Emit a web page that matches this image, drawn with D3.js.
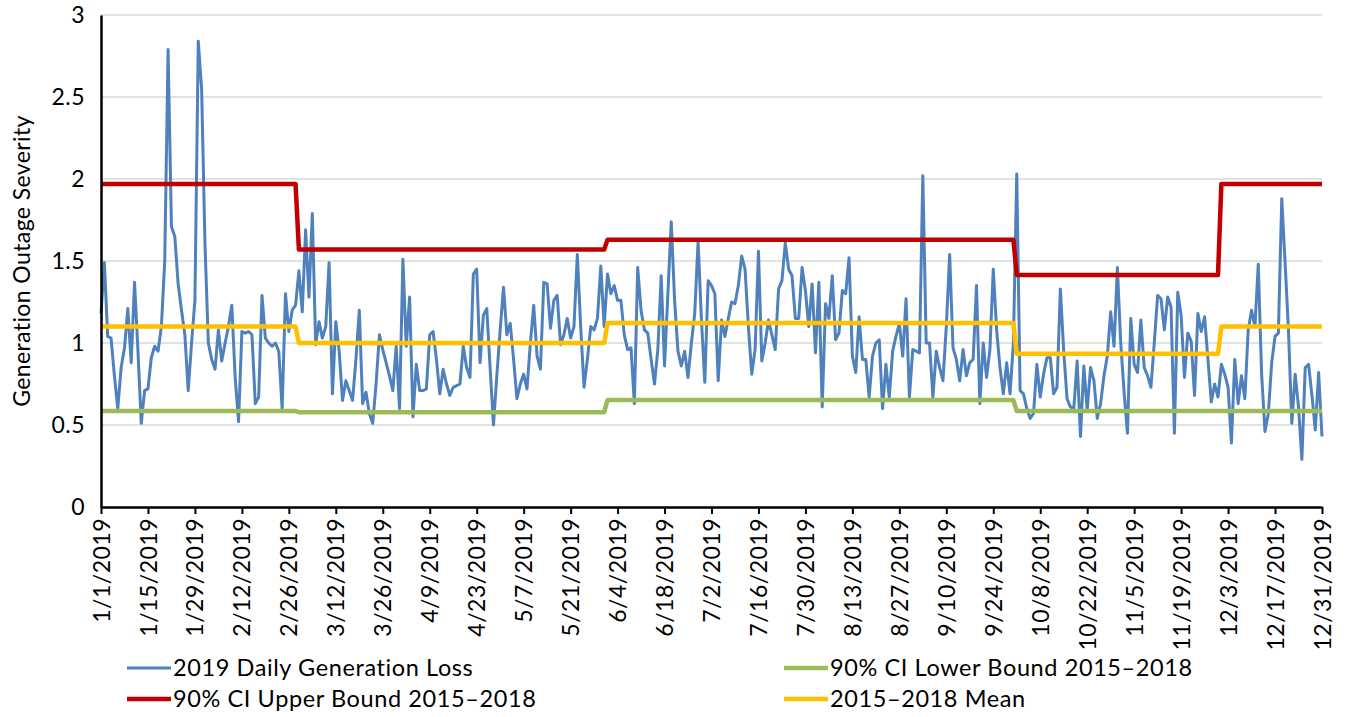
<!DOCTYPE html>
<html lang="en">
<head>
    <meta charset="UTF-8">
    <title>Generation Outage Severity 2019</title>
    <script src="https://d3js.org/d3.v7.min.js"></script>
    <style>
        body { margin: 0; background: #fff; }
        svg text { font-family: Lato, "Liberation Sans", sans-serif; fill: #000; }
        .grid line { stroke: #d9d9d9; stroke-width: 1.5; }
    </style>
</head>
<body>
<div id="chart"></div>
<script>
    // daily values 1/1/2019 .. 12/31/2019
    const dailyLoss = [
        1.18, 1.49, 1.04, 1.03, 0.80, 0.60, 0.85, 0.97, 1.21, 0.88,
        1.37, 0.96, 0.51, 0.71, 0.72, 0.91, 0.98, 0.95, 1.10, 1.50,
        2.79, 1.71, 1.65, 1.36, 1.20, 1.05, 0.71, 1.00, 1.26, 2.84,
        2.55, 1.60, 1.00, 0.90, 0.84, 1.08, 0.89, 1.00, 1.10, 1.23,
        0.79, 0.52, 1.07, 1.06, 1.07, 1.05, 0.63, 0.67, 1.29, 1.03,
        1.00, 0.98, 1.00, 0.95, 0.60, 1.30, 1.07, 1.20, 1.23, 1.44,
        1.19, 1.69, 1.28, 1.79, 0.99, 1.13, 1.03, 1.10, 1.49, 0.69,
        1.13, 0.95, 0.65, 0.77, 0.71, 0.65, 0.90, 1.20, 0.63, 0.70,
        0.57, 0.51, 0.75, 1.05, 0.96, 0.88, 0.80, 0.71, 0.98, 0.60,
        1.51, 0.98, 1.28, 0.55, 0.87, 0.71, 0.71, 0.72, 1.05, 1.07,
        0.90, 0.69, 0.84, 0.75, 0.68, 0.73, 0.74, 0.75, 0.98, 0.85,
        0.79, 1.42, 1.45, 0.88, 1.17, 1.21, 0.85, 0.50, 0.80, 1.08,
        1.34, 1.05, 1.12, 0.90, 0.66, 0.75, 0.81, 0.72, 1.00, 1.23,
        0.92, 0.84, 1.37, 1.36, 1.09, 1.26, 1.29, 0.99, 1.05, 1.15,
        1.03, 1.10, 1.54, 1.10, 0.73, 0.90, 1.10, 1.08, 1.15, 1.47,
        1.10, 1.42, 1.30, 1.35, 1.26, 1.26, 1.05, 0.96, 0.97, 0.63,
        1.46, 1.20, 1.08, 1.06, 0.90, 0.75, 0.96, 1.41, 0.86, 1.30,
        1.74, 1.26, 0.95, 0.86, 0.95, 0.79, 1.00, 1.18, 1.62, 1.14,
        0.76, 1.38, 1.35, 1.30, 0.77, 1.14, 1.04, 1.15, 1.25, 1.24,
        1.35, 1.53, 1.45, 1.10, 0.81, 0.96, 1.56, 0.89, 1.00, 1.14,
        1.05, 0.96, 1.33, 1.38, 1.61, 1.45, 1.41, 1.15, 1.15, 1.46,
        1.32, 1.10, 1.36, 0.94, 1.37, 0.61, 1.24, 1.15, 1.41, 1.02,
        1.06, 1.32, 1.30, 1.52, 0.92, 0.82, 1.16, 0.90, 0.90, 0.67,
        0.92, 1.00, 1.02, 0.60, 0.87, 0.67, 0.95, 1.04, 1.12, 0.92,
        1.27, 0.67, 0.96, 0.95, 0.94, 2.02, 1.00, 1.00, 0.67, 0.95,
        0.85, 0.77, 1.10, 1.54, 0.97, 0.90, 0.77, 0.96, 0.80, 0.88,
        0.90, 1.35, 0.63, 1.00, 0.79, 0.96, 1.45, 1.08, 0.85, 0.69,
        0.88, 0.69, 1.00, 2.03, 0.71, 0.69, 0.60, 0.54, 0.57, 0.87,
        0.67, 0.81, 0.91, 0.91, 0.69, 0.73, 1.33, 0.95, 0.66, 0.61,
        0.60, 0.89, 0.43, 0.86, 0.59, 0.85, 0.77, 0.54, 0.63, 0.80,
        0.92, 1.19, 0.98, 1.46, 1.00, 0.70, 0.45, 1.15, 0.87, 0.82,
        1.14, 0.85, 0.80, 0.73, 1.00, 1.29, 1.27, 1.08, 1.28, 1.22,
        0.45, 1.31, 1.17, 0.79, 1.06, 1.01, 0.68, 1.18, 1.07, 1.16,
        0.90, 0.64, 0.75, 0.67, 0.87, 0.81, 0.73, 0.39, 0.90, 0.63,
        0.80, 0.66, 1.08, 1.20, 1.10, 1.48, 0.81, 0.46, 0.57, 0.88,
        1.04, 1.06, 1.88, 1.49, 1.08, 0.51, 0.81, 0.61, 0.29, 0.85,
        0.87, 0.68, 0.47, 0.82, 0.43
    ];

    // 2015-2018 reference bands, vertices of the step lines
    const boundDates = ["2019-01-01", "2019-02-28", "2019-03-01", "2019-05-31", "2019-06-01",
                        "2019-09-30", "2019-10-01", "2019-11-30", "2019-12-01", "2019-12-31"];
    const upperBound = [1.97, 1.97, 1.57, 1.57, 1.63, 1.63, 1.415, 1.415, 1.97, 1.97];
    const lowerBound = [0.585, 0.585, 0.578, 0.578, 0.652, 0.652, 0.585, 0.585, 0.585, 0.585];
    const meanLine   = [1.10, 1.10, 1.00, 1.00, 1.122, 1.122, 0.935, 0.935, 1.10, 1.10];

    const yTicks = [0, 0.5, 1, 1.5, 2, 2.5, 3];

    const seriesNames = ["2019 Daily Generation Loss", "90% CI Lower Bound 2015\u20132018",
                         "90% CI Upper Bound 2015\u20132018", "2015\u20132018 Mean"];
    const seriesColors = ["#4f81bd", "#9bbb59", "#c00000", "#ffc000"];

    const W = 1347, H = 717;
    const parse = d3.timeParse("%Y-%m-%d");
    const start = parse("2019-01-01");

    const daily = dailyLoss.map((v, i) => ({ date: d3.timeDay.offset(start, i), value: v }));
    const band = arr => boundDates.map((d, i) => ({ date: parse(d), value: arr[i] }));

    const x = d3.scaleTime()
        .domain([start, parse("2019-12-31")])
        .range([101, 1322]);
    const y = d3.scaleLinear().domain([0, 3]).range([507, 15]);

    const svg = d3.select("#chart").append("svg")
        .attr("width", W).attr("height", H);

    // horizontal gridlines
    svg.append("g").attr("class", "grid")
        .selectAll("line").data(yTicks.slice(1)).join("line")
        .attr("x1", x.range()[0]).attr("x2", x.range()[1])
        .attr("y1", d => y(d)).attr("y2", d => y(d));

    const line = d3.line().x(d => x(d.date)).y(d => y(d.value));

    svg.append("path").datum(daily)
        .attr("fill", "none").attr("stroke", seriesColors[0])
        .attr("stroke-width", 3).attr("stroke-linejoin", "round")
        .attr("d", line);

    [[upperBound, seriesColors[2]], [lowerBound, seriesColors[1]], [meanLine, seriesColors[3]]]
        .forEach(([arr, c]) => {
            svg.append("path").datum(band(arr))
                .attr("fill", "none").attr("stroke", c)
                .attr("stroke-width", 4.5).attr("stroke-linejoin", "round")
                .attr("d", line);
        });

    // y axis
    const yAxis = svg.append("g")
        .attr("transform", `translate(${x.range()[0]},0)`)
        .call(d3.axisLeft(y).tickValues(yTicks).tickSize(0).tickPadding(16).tickFormat(d3.format("")));
    yAxis.select(".domain").attr("stroke", "#000").attr("stroke-width", 2.5);
    yAxis.selectAll("text").style("font-size", "23px").style("letter-spacing", "0.5px");

    // x axis, ticks every 14 days
    const xTicks = d3.range(0, 365, 14).map(i => d3.timeDay.offset(start, i));
    const fmt = d => `${d.getMonth() + 1}/${d.getDate()}/${d.getFullYear()}`;
    const xAxis = svg.append("g")
        .attr("transform", `translate(0,${y(0)})`)
        .call(d3.axisBottom(x).tickValues(xTicks).tickFormat(fmt).tickSizeOuter(0).tickSizeInner(7));
    xAxis.select(".domain").attr("stroke", "#000").attr("stroke-width", 2.5);
    xAxis.selectAll(".tick line").attr("stroke", "#000").attr("stroke-width", 2);
    xAxis.selectAll("text")
        .style("font-size", "23px")
        .style("letter-spacing", "0.5px")
        .attr("transform", "rotate(-90)")
        .attr("text-anchor", "end")
        .attr("x", -11).attr("y", 0).attr("dy", "0.35em");

    // y axis title
    svg.append("text")
        .attr("transform", `translate(30,${y(1.5)}) rotate(-90)`)
        .attr("text-anchor", "middle")
        .style("font-size", "23px")
        .style("letter-spacing", "0.4px")
        .text("Generation Outage Severity");

    // legend
    const legendPos = [[127, 668], [784, 668], [127, 699], [784, 699]];
    const legend = svg.append("g").selectAll("g").data(seriesNames).join("g")
        .attr("transform", (d, i) => `translate(${legendPos[i][0]},${legendPos[i][1]})`);
    legend.append("line")
        .attr("x1", 0).attr("x2", 44).attr("y1", 0).attr("y2", 0)
        .attr("stroke", (d, i) => seriesColors[i])
        .attr("stroke-width", (d, i) => i === 0 ? 3 : 4.5);
    legend.append("text")
        .attr("x", 46).attr("dy", "0.35em")
        .style("font-size", "23.5px")
        .style("letter-spacing", "0.6px")
        .text(d => d);
</script>
</body>
</html>
